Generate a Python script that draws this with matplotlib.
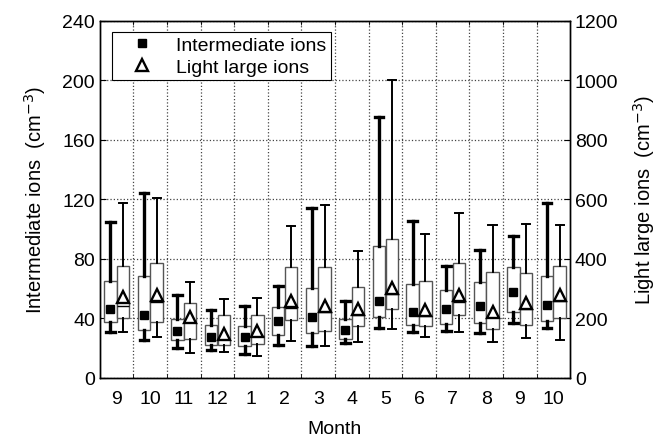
import matplotlib
matplotlib.use("Agg")
import matplotlib.pyplot as plt
from matplotlib.lines import Line2D

plt.rcParams['font.family'] = ['Liberation Sans', 'DejaVu Sans']

months = ["9", "10", "11", "12", "1", "2", "3", "4", "5", "6", "7", "8", "9", "10"]

# Intermediate ions (cm^-3), left axis
int_whislo = [31.1, 25.3, 20.4, 19.0, 16.1, 22.2, 21.7, 23.5, 33.6, 30.7, 31.4, 30.5, 36.7, 33.4]
int_q1     = [37.4, 32.5, 25.5, 22.4, 21.3, 28.5, 30.5, 26.2, 40.6, 35.6, 36.5, 36.7, 44.6, 37.9]
int_med    = [46.4, 42.6, 31.6, 27.3, 27.3, 37.9, 40.6, 32.5, 51.5, 44.6, 46.4, 48.6, 58.0, 49.1]
int_q3     = [65.4, 68.3, 39.4, 35.4, 35.2, 47.5, 60.7, 39.4, 88.5, 63.4, 59.4, 64.5, 74.6, 68.6]
int_whishi = [105.1, 124.4, 55.6, 45.9, 48.0, 61.8, 114.0, 51.5, 175.3, 105.3, 75.1, 86.3, 95.7, 117.4]
int_mean   = [46.4, 42.6, 31.6, 27.3, 27.3, 37.9, 40.6, 32.5, 51.5, 44.6, 46.4, 48.6, 58.0, 49.1]

# Light large ions (cm^-3), right axis
lli_whislo = [155, 137, 84, 88, 75, 125, 107, 122, 165, 136, 155, 122, 134, 128]
lli_q1     = [200, 188, 130, 112, 113, 193, 159, 175, 231, 174, 210, 163, 178, 200]
lli_med    = [240, 255, 187, 131, 142, 235, 223, 213, 283, 207, 255, 206, 230, 257]
lli_q3     = [376, 386, 252, 210, 213, 374, 372, 305, 466, 324, 387, 355, 352, 375]
lli_whishi = [587, 604, 323, 265, 269, 512, 580, 426, 1002, 484, 554, 515, 517, 515]
lli_mean   = [271, 277, 204, 148, 159, 257, 243, 232, 302, 227, 277, 223, 252, 277]

n = len(months)
xs = list(range(n))
off = 0.19
bw = 0.37

fig = plt.figure(figsize=(6.66, 4.39), dpi=100)
ax = fig.add_axes([0.150, 0.137, 0.706, 0.813])
ax2 = ax.twinx()

def stats(lo, q1, med, q3, hi):
    return [dict(whislo=a, q1=b, med=c, q3=d, whishi=e, fliers=[])
            for a, b, c, d, e in zip(lo, q1, med, q3, hi)]

boxc = '#555555'
ax.bxp(stats(int_whislo, int_q1, int_med, int_q3, int_whishi),
       positions=[x - off for x in xs], widths=bw, showfliers=False,
       patch_artist=True,
       boxprops=dict(facecolor='white', edgecolor=boxc, linewidth=1.0),
       medianprops=dict(color='none'),
       whiskerprops=dict(color='black', linewidth=2.4),
       capprops=dict(color='black', linewidth=2.4), capwidths=0.26,
       manage_ticks=False)
ax.plot([x - off for x in xs], int_mean, 's', color='black', markersize=5.5, zorder=5)

ax2.bxp(stats(lli_whislo, lli_q1, lli_med, lli_q3, lli_whishi),
        positions=[x + off for x in xs], widths=bw, showfliers=False,
        patch_artist=True,
        boxprops=dict(facecolor='white', edgecolor=boxc, linewidth=1.0),
        medianprops=dict(color='black', linewidth=1.0),
        whiskerprops=dict(color='black', linewidth=1.4),
        capprops=dict(color='black', linewidth=1.4), capwidths=0.24,
        manage_ticks=False)
ax2.plot([x + off for x in xs], lli_mean, '^', markerfacecolor='white',
         markeredgecolor='black', markeredgewidth=1.7, markersize=8, zorder=5)

ax.set_xlim(-0.5, n - 0.5)
ax.set_ylim(0, 240)
ax2.set_ylim(0, 1200)
ax.set_yticks(range(0, 241, 40))
ax2.set_yticks(range(0, 1201, 200))
ax.set_xticks(xs)
ax.set_xticklabels(months)
ax.set_xticks([x + 0.5 for x in xs[:-1]], minor=True)

ax.grid(True, which='major', axis='y', linestyle=':', color='#444444', linewidth=0.9)
ax.grid(True, which='minor', axis='x', linestyle=':', color='#444444', linewidth=0.9)
ax.set_axisbelow(True)

fs = 14
ax.tick_params(axis='x', which='major', length=0, labelsize=fs, pad=9)
ax.tick_params(axis='x', which='minor', direction='in', length=3, top=True)
ax.tick_params(axis='y', direction='in', length=4, labelsize=fs)
ax2.tick_params(axis='y', direction='in', length=4, labelsize=fs)

ax.set_xlabel("Month", fontsize=14, labelpad=9)
ax.set_ylabel("Intermediate ions  (cm$^{-3}$)", fontsize=14.5, labelpad=10)
ax2.set_ylabel("Light large ions  (cm$^{-3}$)", fontsize=14.5, labelpad=9)

for a in (ax, ax2):
    for s in a.spines.values():
        s.set_linewidth(1.0)
        s.set_color('black')

handles = [Line2D([], [], marker='s', linestyle='none', color='black', markersize=5.5),
           Line2D([], [], marker='^', linestyle='none', markerfacecolor='white',
                  markeredgecolor='black', markeredgewidth=1.7, markersize=8)]
leg = ax2.legend(handles, ["Intermediate ions", "Light large ions"],
                 loc='upper left', bbox_to_anchor=(0.025, 0.97), borderaxespad=0,
                 fontsize=14, fancybox=False, framealpha=1, edgecolor='black',
                 handlelength=2.6, handletextpad=0.45, borderpad=0.25, labelspacing=0.2)
leg.get_frame().set_linewidth(0.8)

fig.savefig("out.png", dpi=100)
